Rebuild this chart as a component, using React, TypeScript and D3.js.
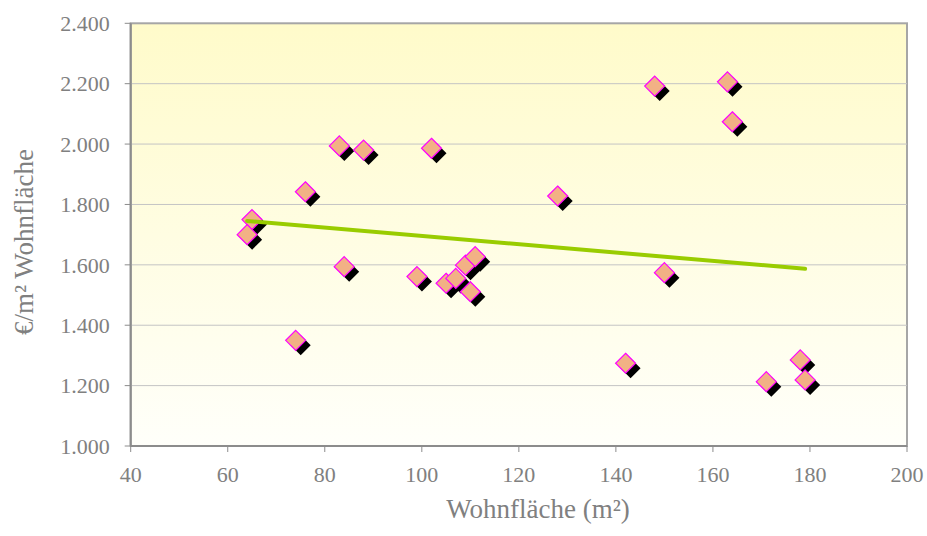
import React from "react";
import * as d3 from "d3";

const areas = [65, 64, 76, 74, 83, 88, 84, 99, 102, 105, 107, 109, 111, 110, 128, 142, 148, 150, 163, 164, 171, 178, 179];
const prices = [1750, 1700, 1842, 1350, 1994, 1980, 1594, 1561, 1986, 1539, 1555, 1599, 1627, 1511, 1828, 1274, 2192, 1574, 2206, 2074, 1213, 1285, 1219];
const xTicks = [40, 60, 80, 100, 120, 140, 160, 180, 200];
const yTicks = [1000, 1200, 1400, 1600, 1800, 2000, 2200, 2400];
const xTitle = "Wohnfläche (m²)";
const yTitle = "€/m² Wohnfläche";

const W = 927, H = 536;
const L = 130.7, R = 907, T = 23.3, B = 446;

const loc = d3.formatLocale({ decimal: ",", thousands: ".", grouping: [3], currency: ["", "€"] });
const fmt = loc.format(",.0f");

export default function App() {
  const x = d3.scaleLinear().domain([40, 200]).range([L, R]);
  const y = d3.scaleLinear().domain([1000, 2400]).range([B, T]);
  const pts = areas.map((a, i) => ({ a, p: prices[i] }));

  // linear regression trend line
  const mx = d3.mean(areas)!;
  const my = d3.mean(prices)!;
  let sxy = 0, sxx = 0;
  pts.forEach(({ a, p }) => { sxy += (a - mx) * (p - my); sxx += (a - mx) ** 2; });
  const slope = sxy / sxx;
  const icpt = my - slope * mx;
  const x0 = d3.min(areas)!, x1 = d3.max(areas)!;
  const line = d3.line<number>().x((d) => x(d)).y((d) => y(icpt + slope * d));

  const font = "'Liberation Serif', 'Times New Roman', serif";
  const txt = "#808080";
  const r = 10;
  const diamond = (cx: number, cy: number) => `M${cx},${cy - r}L${cx + r},${cy}L${cx},${cy + r}L${cx - r},${cy}Z`;

  return (
    <svg width={W} height={H} style={{ position: "absolute", left: 0, top: 0, background: "#fff" }}>
      <defs>
        <linearGradient id="bg" x1="0" y1="0" x2="0" y2="1">
          <stop offset="0" stopColor="#FFFBCA" />
          <stop offset="1" stopColor="#FFFFFA" />
        </linearGradient>
      </defs>
      <rect x={L} y={T} width={R - L} height={B - T} fill="url(#bg)" stroke="#A6A6A6" strokeWidth={2} />
      {yTicks.slice(1, -1).map((t) => (
        <line key={t} x1={L} x2={R} y1={y(t)} y2={y(t)} stroke="#C4C4C4" strokeWidth={1} />
      ))}
      {/* axes */}
      <line x1={L} x2={L} y1={T} y2={B} stroke="#8C8C8C" strokeWidth={2} />
      <line x1={L} x2={R} y1={B} y2={B} stroke="#8C8C8C" strokeWidth={2} />
      {yTicks.map((t) => (
        <g key={t}>
          <line x1={L - 6} x2={L} y1={y(t)} y2={y(t)} stroke="#8C8C8C" strokeWidth={1} />
          <text x={L - 21} y={y(t)} dy="0.35em" textAnchor="end" fontFamily={font} fontSize={22} fill={txt}>
            {fmt(t)}
          </text>
        </g>
      ))}
      {xTicks.map((t) => (
        <g key={t}>
          <line x1={x(t)} x2={x(t)} y1={B} y2={B + 6} stroke="#8C8C8C" strokeWidth={1} />
          <text x={x(t)} y={482} textAnchor="middle" fontFamily={font} fontSize={22} fill={txt}>
            {t}
          </text>
        </g>
      ))}
      <text x={538} y={518} textAnchor="middle" fontFamily={font} fontSize={27} fill={txt}>{xTitle}</text>
      <text transform="translate(33,242) rotate(-90)" textAnchor="middle" fontFamily={font} fontSize={27} fill={txt}>{yTitle}</text>
      {/* points */}
      {pts.map((d, i) => {
        const cx = x(d.a), cy = y(d.p);
        return (
          <g key={i}>
            <path d={diamond(cx + 5, cy + 5)} fill="#000" />
            <path d={diamond(cx, cy)} fill="#F2B185" stroke="#FF00FF" strokeWidth={1.2} />
          </g>
        );
      })}
      <path d={line([x0, x1])!} stroke="#99CC00" strokeWidth={4} strokeLinecap="round" fill="none" />
    </svg>
  );
}
